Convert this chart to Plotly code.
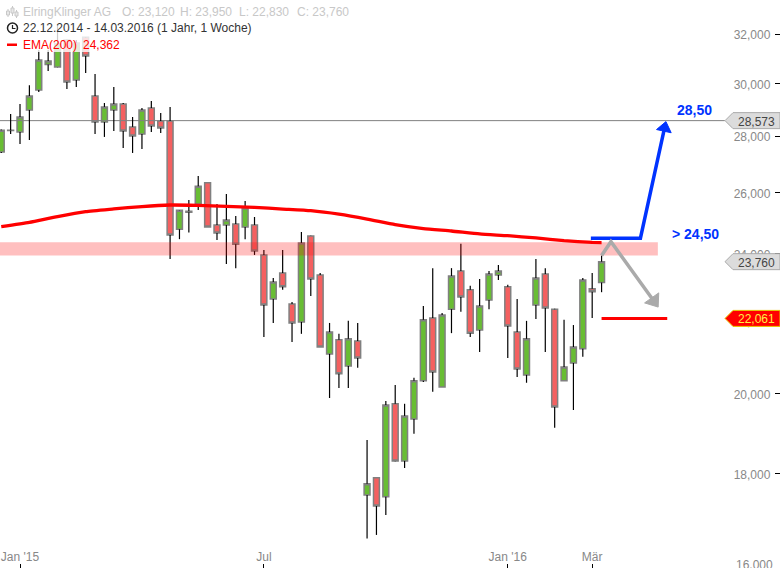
import math
import pandas as pd
import plotly.graph_objects as go

dates = pd.date_range("2014-12-22", periods=65, freq="7D")
opens = [27420,28210,28150,28970,29740,30750,30650,31750,30130,31870,29510,28520,28970,29200,28340,28080,29050,28560,28560,24790,25350,25620,26340,24930,24930,24960,24860,24930,23970,22630,23410,22480,21960,24570,23350,21060,21450,20730,21420,17510,17910,17470,19730,18310,19340,20330,22070,20170,22330,23470,22900,21730,22600,23350,22990,21670,20490,22450,23380,22330,20330,20810,21200,22930,23120]
highs = [28240,28820,29200,29930,31340,31340,32420,31760,31750,31880,30370,29240,29860,29240,28710,29050,29320,28860,29090,25420,25755,26580,26340,25620,25960,25220,25720,25190,24125,23260,24125,22540,24700,24580,23410,21930,21620,21990,21930,18820,17910,19800,20220,19730,20410,22420,23560,22220,23560,24320,23020,23230,23470,23660,23050,22630,21990,23840,23560,22340,22020,21870,23260,23410,23950]
lows = [27390,28080,27710,27860,29660,30490,30640,29780,29860,30410,28080,27970,28190,27570,27390,27530,28150,28110,23840,24470,24680,25420,24860,24440,23690,23560,24470,23970,21530,21930,22900,21390,21620,22720,21250,19880,20140,20140,20680,16540,16620,17060,18300,18140,18970,20300,20040,20170,21640,22250,21530,21110,22330,23200,20950,20430,20280,22040,21110,19120,20330,19570,20980,22070,22830]
closes = [28220,28220,28710,29510,30930,30890,31590,30050,31630,31090,28520,29090,29200,28190,28000,28970,28370,28300,24600,25410,25380,26220,24860,24670,25090,24310,25490,24090,22450,23140,22990,21930,24350,23230,21250,21670,20520,21480,20950,17770,17260,19700,18310,19420,20330,22020,20570,22160,23320,22690,21640,22420,23380,23470,21840,20650,21480,23260,22360,19650,20700,21250,23200,22840,23760]

ema_dates = list(dates[::3]) + [dates[-1]]
ema_values = [24874,25014,25205,25367,25456,25537,25587,25573,25543,25507,25453,25397,25282,25123,24942,24812,24732,24636,24581,24508,24422,24365,24362]

last_high = 28573
last_close = 23760
stop_level = 22061
band_low, band_high = 23950, 24370
band_dates = ["2014-12-21", "2016-04-25"]
hline_dates = ["2014-12-21", "2016-06-14"]
blue_dates = ["2016-03-06", "2016-04-12", "2016-04-30"]
blue_values = [24500, 24500, 28300]
grey_dates = ["2016-03-14", "2016-03-21", "2016-04-22"]
grey_values = [23950, 24390, 22570]
stop_dates = ["2016-03-14", "2016-05-02"]

x_tick_vals = ["2015-01-05", "2015-07-06", "2016-01-04", "2016-03-07"]
x_tick_text = ["Jan '15", "Jul", "Jan '16", "Mär"]
y_ticks = [16000, 18000, 20000, 22000, 24000, 26000, 28000, 30000, 32000]

W, H = 780, 568
Y_LO, Y_HI = 4.20185, 4.52447
FONT = "Liberation Sans"
GREEN, RED = "#68bd33", "#f46060"


def px(x):
    return x / W


def py(y):
    return 1 - y / H


def tag_y(price):
    return H * (1 - (math.log10(price) - Y_LO) / (Y_HI - Y_LO))


fig = go.Figure()
fig.add_trace(go.Scatter(x=hline_dates, y=[last_high, last_high], mode="lines",
                         line=dict(color="#808080", width=1), hoverinfo="skip"))
wx, wy = [], []
for d, o, h, l, c in zip(dates, opens, highs, lows, closes):
    wx += [d, d, None, d, d, None]
    wy += [h, max(o, c), None, min(o, c), l, None]
fig.add_trace(go.Scatter(x=wx, y=wy, mode="lines", line=dict(color="#000000", width=1.2), hoverinfo="skip"))
fig.add_trace(go.Candlestick(
    x=dates, open=opens, close=closes,
    high=[max(o, c) for o, c in zip(opens, closes)],
    low=[min(o, c) for o, c in zip(opens, closes)],
    increasing=dict(fillcolor=GREEN, line=dict(color="#808080", width=1.5)),
    decreasing=dict(fillcolor=RED, line=dict(color="#808080", width=1.5)),
    whiskerwidth=0))
fig.add_trace(go.Scatter(x=[band_dates[0], band_dates[1], band_dates[1], band_dates[0], band_dates[0]],
                         y=[band_low, band_low, band_high, band_high, band_low], mode="lines", fill="toself",
                         fillcolor="rgba(255,0,0,0.25)", line=dict(width=0), hoverinfo="skip"))
fig.add_trace(go.Scatter(x=ema_dates, y=ema_values, mode="lines",
                         line=dict(color="#ff0000", width=3.3, shape="spline", smoothing=0.5), hoverinfo="skip"))
fig.add_trace(go.Scatter(x=stop_dates, y=[stop_level, stop_level], mode="lines",
                         line=dict(color="#ff0000", width=3), hoverinfo="skip"))
fig.add_trace(go.Scatter(x=blue_dates, y=blue_values, mode="lines", line=dict(color="#0033ff", width=3.5),
                         hoverinfo="skip"))
fig.add_trace(go.Scatter(x=blue_dates[-1:], y=blue_values[-1:], mode="markers",
                         marker=dict(symbol="triangle-up", size=13, color="#0033ff", angle=12.4, line=dict(width=1, color="#0033ff")),
                         hoverinfo="skip"))
fig.add_trace(go.Scatter(x=grey_dates, y=grey_values, mode="lines", line=dict(color="#aaaaaa", width=3.5),
                         hoverinfo="skip"))
fig.add_trace(go.Scatter(x=grey_dates[-1:], y=grey_values[-1:], mode="markers",
                         marker=dict(symbol="triangle-up", size=15, color="#aaaaaa", angle=144.7, line=dict(width=1, color="#aaaaaa")),
                         hoverinfo="skip"))

shapes = [dict(type="rect", xref="paper", yref="paper", x0=0, x1=px(300), y0=py(52), y1=1, line=dict(width=0),
               fillcolor="rgba(255,255,255,0.8)", layer="above"),
          dict(type="rect", xref="paper", yref="paper", x0=px(7), x1=px(17), y0=py(46), y1=py(43.5), line=dict(width=0),
               fillcolor="#ff0000", layer="above"),
          dict(type="circle", xref="paper", yref="paper", x0=px(7.5), x1=px(17.5), y0=py(33), y1=py(23),
               line=dict(color="#222222", width=1.5), layer="above"),
          dict(type="path", xref="paper", yref="paper",
               path=f"M {px(12.5)} {py(25)} L {px(12.5)} {py(28.5)} L {px(15.5)} {py(28.5)}",
               line=dict(color="#222222", width=1.2), layer="above")]
for cx, top, bot, bt, bb in [(8, 9, 17, 11, 15), (12.5, 6, 16, 8, 13), (16.5, 10, 18, 12, 16)]:
    shapes.append(dict(type="line", xref="paper", yref="paper", x0=px(cx), x1=px(cx), y0=py(bot), y1=py(top),
                       line=dict(color="#c8c8c8", width=1), layer="above"))
    shapes.append(dict(type="rect", xref="paper", yref="paper", x0=px(cx - 1.5), x1=px(cx + 1.5), y0=py(bb), y1=py(bt),
                       line=dict(color="#c8c8c8", width=1), fillcolor="#e8e8e8", layer="above"))

annotations = []


def tag(price, fill, border, color):
    y = tag_y(price)
    path = (f"M {px(725)} {py(y)} L {px(733)} {py(y - 8)} L {px(780)} {py(y - 8)} "
            f"L {px(780)} {py(y + 8)} L {px(733)} {py(y + 8)} Z")
    shapes.append(dict(type="path", xref="paper", yref="paper", path=path, fillcolor=fill,
                       line=dict(color=border, width=1), layer="above"))
    annotations.append(dict(xref="paper", yref="paper", x=px(756), y=py(y), text=f"{price:,}", showarrow=False,
                            xanchor="center", yanchor="middle", yshift=-1, font=dict(family=FONT, size=12, color=color)))


def label(x, y, text, color, size=12, bold=False):
    annotations.append(dict(xref="paper", yref="paper", x=px(x), y=py(y), text=f"<b>{text}</b>" if bold else text,
                            showarrow=False, xanchor="left", yanchor="middle", xshift=-1,
                            font=dict(family=FONT, size=size, color=color), borderpad=0))


label(23, 12, "ElringKlinger AG", "#c8c8c8")
label(122, 12, "O: 23,120", "#c8c8c8")
label(180, 12, "H: 23,950", "#c8c8c8")
label(239, 12, "L: 22,830", "#c8c8c8")
label(297, 12, "C: 23,760", "#c8c8c8")
label(23, 28.5, "22.12.2014 - 14.03.2016 (1 Jahr, 1 Woche)", "#333333")
label(23, 45, "EMA(200)", "#ff0000")
label(83, 45, "24,362", "#ff0000")
label(677, 110, "28,50", "#0033ff", 14, True)
label(672, 234, "&gt; 24,50", "#0033ff", 14, True)
label(736, 564.5, f"{y_ticks[0]:,}", "#888888")
tag(last_high, "#dcdcdc", "#aaaaaa", "#444444")
tag(last_close, "#dcdcdc", "#aaaaaa", "#444444")
tag(stop_level, "#ff0000", "#e8c800", "#ffee44")

fig.update_layout(
    width=W, height=H, margin=dict(l=0, r=0, t=0, b=0), paper_bgcolor="white", plot_bgcolor="white",
    showlegend=False, boxgap=0.1, shapes=shapes, annotations=annotations,
    font=dict(family=FONT, size=12, color="#888888"),
    xaxis=dict(type="date", range=["2014-12-21 01:40", "2016-07-25 03:50"], rangeslider=dict(visible=False),
               showgrid=False, zeroline=False, showline=False, tickmode="array", tickvals=x_tick_vals,
               ticktext=x_tick_text, ticks="inside", ticklen=4, tickwidth=1, tickcolor="#000000",
               ticklabelposition="inside", tickfont=dict(family=FONT, size=12, color="#888888")),
    yaxis=dict(type="log", side="right", range=[Y_LO, Y_HI], showgrid=False, zeroline=False, showline=False,
               tickmode="array", tickvals=y_ticks, ticktext=[f"{v:,}" for v in y_ticks], ticks="inside", ticklen=5,
               tickwidth=1, tickcolor="#000000", ticklabelposition="inside", ticklabelstandoff=4, ticklabelshift=1,
               tickfont=dict(family=FONT, size=12, color="#888888")),
)
fig.write_html("out.html", post_script="document.body.style.margin='0';document.body.style.overflow='hidden';",
               config=dict(displayModeBar=False))
